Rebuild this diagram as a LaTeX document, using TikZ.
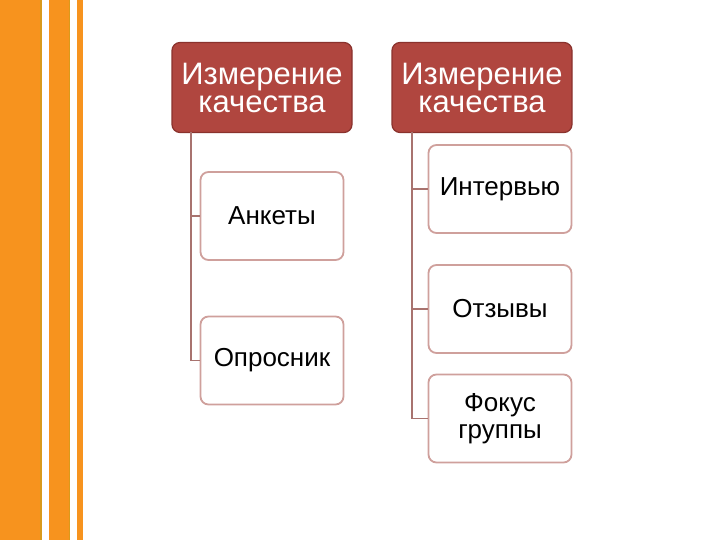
\documentclass[tikz,border=0pt]{standalone}
\usepackage{fontspec}
\setmainfont{Liberation Sans}
\definecolor{Orange}{HTML}{F7931E}
\definecolor{OrangeEdge}{HTML}{D99A1C}
\definecolor{Brick}{HTML}{B0463F}
\definecolor{BrickDark}{HTML}{8A322D}
\definecolor{Rose}{HTML}{CFA09C}
\definecolor{Twig}{HTML}{A8736F}
\usetikzlibrary{positioning}

\begin{document}
\begin{tikzpicture}[x=1pt, y=-1pt,
  head/.style={draw=BrickDark, line width=1.2pt, fill=Brick, rounded corners=8pt,
    minimum width=180pt, minimum height=90pt, inner sep=0pt, align=center,
    text=white, font=\fontsize{31}{28}\selectfont},
  leaf/.style={draw=Rose, line width=1.8pt, fill=white, rounded corners=8pt,
    minimum width=143pt, minimum height=88pt, inner sep=0pt, align=center,
    font=\fontsize{26}{27}\selectfont},
  twig/.style={draw=Twig, line width=1.4pt}]
\useasboundingbox (0,0) rectangle (720,540);
% stripes on the left
\fill[Orange] (0,0) rectangle (42,540);
\fill[OrangeEdge] (40,0) rectangle (42,540);
\fill[Orange] (49,0) rectangle (70,540);
\fill[OrangeEdge] (68.5,0) rectangle (70,540);
\fill[Orange] (77,0) rectangle (83,540);
% two columns, header on top
\node[head] (hl) at (262,87.5) {Измерение\\качества};
\node[head] (hr) at (482,87.5) {Измерение\\качества};
\node[leaf] (ank) at (272,216) {Анкеты};
\node[leaf] (opr) at (272,360.5) {Опросник};
\node[leaf] (int) at (500,189) {Интервью};
\node[leaf] (otz) at (500,309) {Отзывы};
\node[leaf] (fok) at (500,418.5) {Фокус\\группы};
\coordinate (tl) at (191,132);
\coordinate (tr) at (412,132);
\draw[twig] (tl) |- (ank.west);
\draw[twig] (tl) |- (opr.west);
\draw[twig] (tr) |- (int.west);
\draw[twig] (tr) |- (otz.west);
\draw[twig] (tr) |- (fok.west);
\end{tikzpicture}
\end{document}
